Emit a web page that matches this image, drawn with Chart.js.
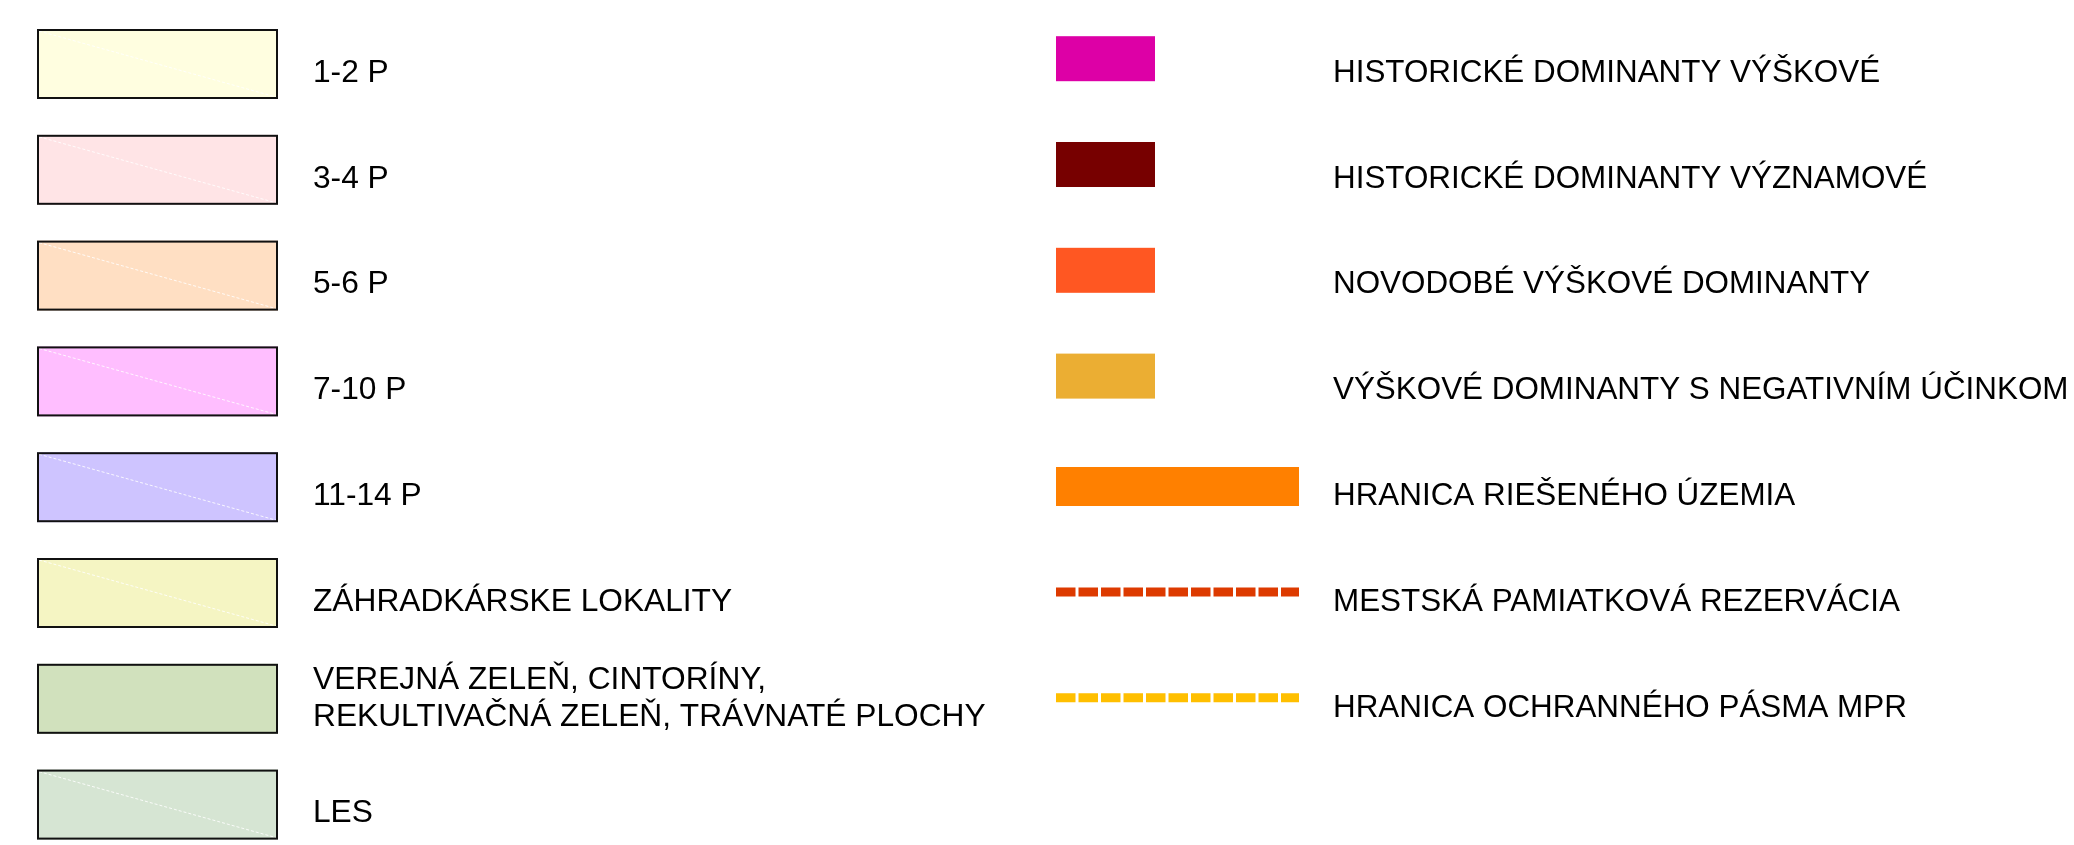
<!DOCTYPE html>
<html>
<head>
<meta charset="utf-8">
<script src="https://cdn.jsdelivr.net/npm/chart.js@4/dist/chart.umd.min.js"></script>
<style>
html,body{margin:0;padding:0;background:#ffffff;overflow:hidden}
#wrap{width:2074px;height:845px;position:relative}
canvas{display:block}
</style>
</head>
<body>
<div id="wrap"><canvas id="c" width="2074" height="845"></canvas></div>
<script>
// ---- legend data (left column: building heights / land use) ----
const heightLabels = [
  '1-2 P',
  '3-4 P',
  '5-6 P',
  '7-10 P',
  '11-14 P',
  'ZÁHRADKÁRSKE LOKALITY',
  ['VEREJNÁ ZELEŇ, CINTORÍNY,', 'REKULTIVAČNÁ ZELEŇ, TRÁVNATÉ PLOCHY'],
  'LES'
];
const heightColors = ['#FFFEE0', '#FFE4E6', '#FFDFC3', '#FFBEFF', '#CEC4FF', '#F5F5C3', '#D1E1BD', '#D6E5D3'];
const heightHatched = [true, true, true, true, true, true, false, true];
const heightRows = [0, 1, 2, 3, 4, 5, 6, 7];

// ---- legend data (right column: dominants / boundaries) ----
const dominantLabels = [
  'HISTORICKÉ DOMINANTY VÝŠKOVÉ',
  'HISTORICKÉ DOMINANTY VÝZNAMOVÉ',
  'NOVODOBÉ VÝŠKOVÉ DOMINANTY',
  'VÝŠKOVÉ DOMINANTY S NEGATIVNÍM ÚČINKOM',
  'HRANICA RIEŠENÉHO ÚZEMIA',
  'MESTSKÁ PAMIATKOVÁ REZERVÁCIA',
  'HRANICA OCHRANNÉHO PÁSMA MPR'
];
const dominantColors = ['#DD00A6', '#770000', '#FF5722', '#EBAE33', '#FF8000', '#DD3A00', '#FFBF00'];
const dominantKinds = ['box', 'box', 'box', 'box', 'band', 'dash', 'dash'];
const dominantRows = [0, 1, 2, 3, 4, 5, 6];

// datasets built from the arrays (one per legend entry)
const datasets = [];
heightLabels.forEach((l, i) => datasets.push({
  label: Array.isArray(l) ? l.join(' ') : l, lines: Array.isArray(l) ? l : [l],
  column: 'left', row: heightRows[i], kind: heightHatched[i] ? 'hatched' : 'plain',
  backgroundColor: heightColors[i], borderColor: '#111111', data: []
}));
dominantLabels.forEach((l, i) => datasets.push({
  label: l, lines: [l], column: 'right', row: dominantRows[i], kind: dominantKinds[i],
  backgroundColor: dominantColors[i], borderColor: dominantColors[i], data: []
}));

const FONT_L = '31.7px "Liberation Sans", Arial, sans-serif';
const FONT_R = '31.4px "Liberation Sans", Arial, sans-serif';
const CAP = 31.4 * 0.716;

const legendPlugin = {
  id: 'mapLegend',
  afterDraw(chart) {
    const ctx = chart.ctx;
    const ys = chart.scales.y;
    ctx.save();
    ctx.fillStyle = '#000000';
    ctx.textBaseline = 'alphabetic';
    chart.data.datasets.forEach(ds => {
      const cy = ys.getPixelForValue(ds.row);
      if (ds.column === 'left') {
        const x = 37, w = 241, top = cy - 41.5, h = 70;
        ctx.fillStyle = ds.backgroundColor;
        ctx.fillRect(x, top, w, h);
        if (ds.kind === 'hatched') {
          ctx.save();
          ctx.strokeStyle = 'rgba(255,255,255,0.85)';
          ctx.lineWidth = 1;
          ctx.setLineDash([3, 2]);
          ctx.beginPath();
          ctx.moveTo(x + 2, top + 2);
          ctx.lineTo(x + w - 2, top + h - 2);
          ctx.stroke();
          ctx.restore();
        }
        ctx.strokeStyle = ds.borderColor;
        ctx.lineWidth = 2;
        ctx.strokeRect(x + 1, top + 1, w - 2, h - 2);
        ctx.fillStyle = '#000000';
        ctx.font = FONT_L;
        if (ds.lines.length === 1) {
          ctx.fillText(ds.lines[0], 313, cy + CAP / 2);
        } else {
          const lh = 37;
          const base = cy - 9.3 + CAP / 2 - lh * (ds.lines.length - 1) / 2;
          ds.lines.forEach((t, k) => ctx.fillText(t, 313, base + k * lh));
        }
      } else {
        const x = 1056;
        ctx.fillStyle = ds.backgroundColor;
        if (ds.kind === 'box') {
          ctx.fillRect(x, cy - 34.3, 99, 45);
        } else if (ds.kind === 'band') {
          ctx.fillRect(x, cy - 26.7, 243, 39);
        } else {
          ctx.save();
          ctx.strokeStyle = ds.borderColor;
          ctx.lineWidth = 9;
          ctx.setLineDash([19.5, 3]);
          ctx.beginPath();
          ctx.moveTo(x, cy - 7.5);
          ctx.lineTo(x + 243, cy - 7.5);
          ctx.stroke();
          ctx.restore();
        }
        ctx.fillStyle = '#000000';
        ctx.font = FONT_R;
        ctx.fillText(ds.lines[0], 1333, cy + CAP / 2);
      }
    });
    ctx.restore();
  }
};

new Chart(document.getElementById('c'), {
  type: 'bar',
  data: { labels: heightRows.map(String), datasets: datasets },
  options: {
    responsive: false,
    animation: false,
    events: [],
    layout: { padding: 0 },
    plugins: { legend: { display: false }, tooltip: { enabled: false }, title: { display: false } },
    scales: {
      x: { type: 'linear', display: false, min: 0, max: 1 },
      y: { type: 'linear', display: false, reverse: true, min: -0.6664, max: 7.3204 }
    }
  },
  plugins: [legendPlugin]
});
</script>
</body>
</html>
